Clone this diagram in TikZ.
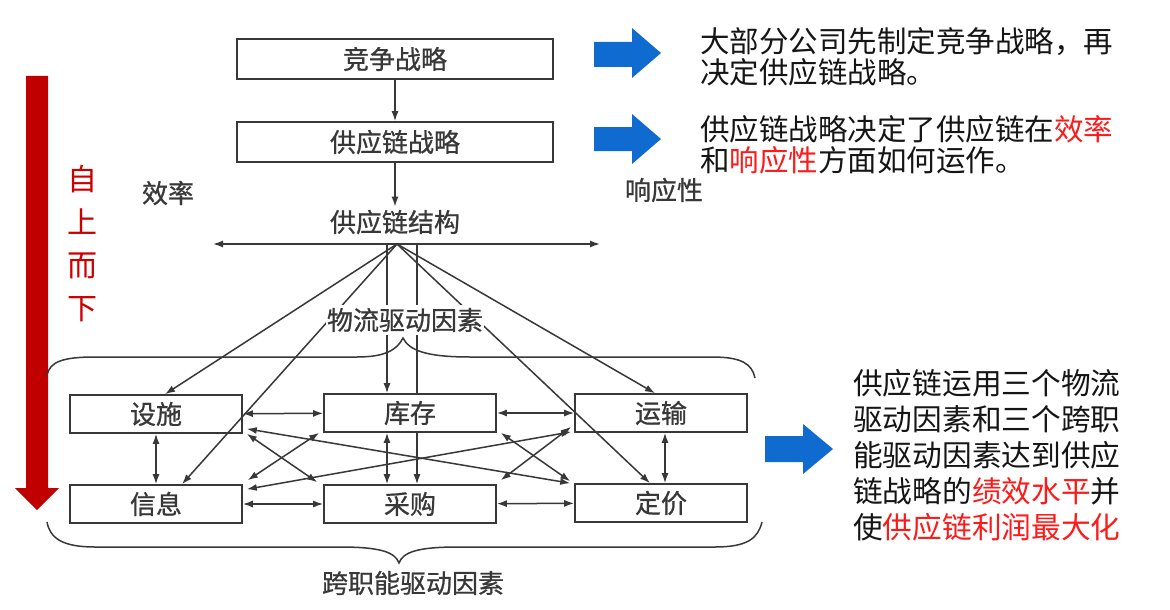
\documentclass[tikz,border=0pt]{standalone}
\usepackage{fontspec}
\newfontfamily\cjk{Noto Sans CJK SC}
\newfontfamily\cjkd[FakeBold=0.8]{Noto Sans CJK SC}
\usetikzlibrary{arrows.meta,calc}
\definecolor{ink}{HTML}{383838}
\definecolor{darkred}{HTML}{C00000}
\definecolor{brightred}{HTML}{FF1A1A}
\definecolor{arrowblue}{HTML}{0F6BD0}
\definecolor{txt}{HTML}{151515}
\begin{document}
\begin{tikzpicture}[x=1pt,y=-1pt,
  >={Latex[length=10pt,width=7pt]},
  conn/.style={draw=ink,line width=1.5pt},
  box/.style={draw=ink,line width=1.6pt,fill=white,minimum width=172pt,minimum height=38pt,inner sep=0pt,font=\cjkd\fontsize{26}{30}\selectfont,text=ink},
  bigbox/.style={box,minimum width=316pt,minimum height=40pt},
  lbl/.style={inner sep=3pt,font=\cjkd\fontsize{26}{30}\selectfont,text=ink},
  rtxt/.style={anchor=west,inner sep=0pt,text=txt},
  brace/.style={draw=ink,line width=1.5pt}
]
\useasboundingbox[fill=white] (0,0) rectangle (1170,610);

% red top-down arrow
\fill[darkred] (26,76) -- (48,76) -- (48,488) -- (59,488) -- (37,510) -- (15,488) -- (26,488) -- cycle;
\node[inner sep=0pt,align=center,text=darkred!80!red,font=\cjk\fontsize{30}{43}\selectfont] (topdown) at (82,244) {自\\上\\而\\下};

% top boxes
\node[bigbox] (comp) at (395,59) {竞争战略};
\node[bigbox] (scs) at (395,142) {供应链战略};
\node[lbl] (struct) at (395,222) {供应链结构};
\node[lbl] (eff) at (168,193) {效率};
\node[lbl] (resp) at (664,190) {响应性};
\draw[conn,->] (comp) -- (scs);
\draw[conn,->] (scs) -- (struct);

\coordinate (hl) at (213,244);
\coordinate (hr) at (600,244);
\coordinate (fan) at (397,244);
\coordinate (va) at (387,244);
\coordinate (vb) at (417,244);
\draw[conn,<->] (hl) -- (hr);

% six driver boxes
\node[box] (fac) at (156,414) {设施};
\node[box] (inv) at (410,413) {库存};
\node[box] (trn) at (661,413) {运输};
\node[box] (info) at (156,504) {信息};
\node[box] (src) at (410,504) {采购};
\node[box] (prc) at (661,503) {定价};

% fan lines from structure
\draw[conn,->] (fan) -- ($(fac.north)+(9,0)$);
\draw[conn,->] (fan) -- ($(info.north)+(26,0)$);
\draw[conn,->] (va) -- (va |- inv.north);
\draw[conn] (vb) -- (vb |- inv.north);
\draw[conn,->] (vb |- inv.south) -- (vb |- src.north);
\draw[conn,->] (fan) -- ($(prc.north)+(-11,0)$);
\draw[conn,->] (fan) -- ($(trn.north)+(-6,0)$);

% braces
\draw[brace] (47,375) .. controls (50,362) and (62,357) .. (95,357) -- (357,357) .. controls (385,357) and (397,350) .. (403,338) .. controls (409,350) and (425,357) .. (470,357) -- (712,357) .. controls (742,357) and (752,364) .. (755,378);
\draw[brace] (47,522) .. controls (50,538) and (62,547) .. (95,547) -- (340,547) .. controls (380,547) and (395,552) .. (399,563) .. controls (403,552) and (418,547) .. (458,547) -- (715,547) .. controls (748,547) and (758,538) .. (762,522);

\node[lbl,fill=white,inner xsep=1pt,inner ysep=3pt] (logi) at (405,320) {物流驱动因素};
\node[lbl] (cross) at (413,583) {跨职能驱动因素};

% links between drivers
\draw[conn,<->] (fac) -- (inv);
\draw[conn,<->] (inv) -- (trn);
\draw[conn,<->] (info) -- (src);
\draw[conn,<->] (src) -- (prc);
\draw[conn,<->] (fac) -- (info);
\draw[conn,<->] (va |- inv.south) -- (va |- src.north);
\draw[conn,<->] ($(trn.south)+(4,0)$) -- ($(prc.north)+(4,0)$);
\draw[conn,<->] ($(fac.south east)+(4,0)$) -- ($(src.north west)+(-6,-2)$);
\draw[conn,<->] ($(fac.south east)+(4,-5)$) -- ($(prc.north west)+(-4,0)$);
\draw[conn,<->] ($(inv.south west)+(-4,0)$) -- ($(info.north east)+(5,-4)$);
\draw[conn,<->] ($(trn.south west)+(-3,-1)$) -- ($(info.north east)+(4,5)$);
\draw[conn,<->] ($(trn.south west)+(-3,-6)$) -- ($(src.north east)+(4,-4)$);
\draw[conn,<->] ($(inv.south east)+(4,0)$) -- ($(prc.north west)+(-4,-2)$);

% blue arrows
\fill[arrowblue] (594,42) -- (632,42) -- (632,28) -- (661,53) -- (632,78) -- (632,67) -- (594,67) -- cycle;
\fill[arrowblue] (594,127) -- (632,127) -- (632,114) -- (661,139) -- (632,164) -- (632,151) -- (594,151) -- cycle;
\fill[arrowblue] (765,436) -- (803,436) -- (803,424) -- (833,449) -- (803,474) -- (803,462) -- (765,462) -- cycle;

% right texts
\begin{scope}[every node/.append style={font=\cjk\fontsize{29.5}{30}\selectfont}]
\node[rtxt] (t1a) at (700,42) {大部分公司先制定竞争战略，再};
\node[rtxt] (t1b) at (700,72) {决定供应链战略。};
\node[rtxt] (t2a) at (700,129) {供应链战略决定了供应链在{\color{brightred}效率}};
\node[rtxt] (t2b) at (700,160) {和{\color{brightred}响应性}方面如何运作。};
\end{scope}
\begin{scope}[every node/.append style={font=\cjk\fontsize{29.7}{30}\selectfont}]
\node[rtxt] (t3a) at (853,383) {供应链运用三个物流};
\node[rtxt] (t3b) at (853,419) {驱动因素和三个跨职};
\node[rtxt] (t3c) at (853,455) {能驱动因素达到供应};
\node[rtxt] (t3d) at (853,491) {链战略的{\color{brightred}绩效水平}并};
\node[rtxt] (t3e) at (853,527) {使{\color{brightred}供应链利润最大化}};
\end{scope}
\end{tikzpicture}
\end{document}
